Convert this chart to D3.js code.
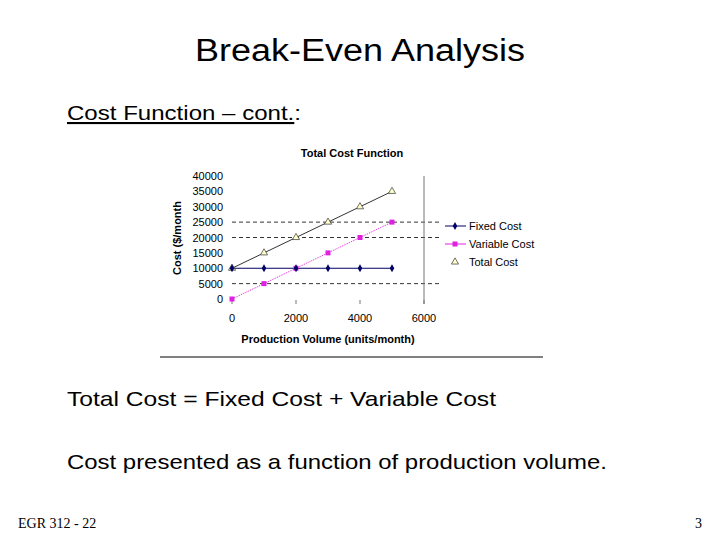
<!DOCTYPE html><html><head><meta charset="utf-8"><script src="https://cdn.jsdelivr.net/npm/d3@7"></script>
<style>body{margin:0;background:#fff}</style></head><body><svg id="s" width="720" height="540"></svg>
<script>
const volumes=[0,1000,2000,3000,4000,5000];
const fixedCost=[10000,10000,10000,10000,10000,10000];
const variableCost=[0,5000,10000,15000,20000,25000];
const totalCost=[10000,15000,20000,25000,30000,35000];
const yTicks=[0,5000,10000,15000,20000,25000,30000,35000,40000];
const xTicks=[0,2000,4000,6000];
const gridLevels=[5000,20000,25000];
const svg=d3.select("#s");
const A="Arial, Liberation Sans, sans-serif";
function big(x,y,size,t,len,anchor){return svg.append("text").attr("x",x).attr("y",y).attr("text-anchor",anchor||"start").attr("font-family",A).attr("font-size",size).attr("textLength",len).attr("lengthAdjust","spacingAndGlyphs").text(t);}
big(360,61,31,"Break-Even Analysis",330,"middle");
const c=svg.append("text").attr("x",67).attr("y",120).attr("font-family",A).attr("font-size",21).attr("textLength",234).attr("lengthAdjust","spacingAndGlyphs");
c.append("tspan").attr("text-decoration","underline").text("Cost Function – cont.");
c.append("tspan").text(":");
big(67,406,21,"Total Cost  = Fixed Cost + Variable Cost",429);
big(67,469,21,"Cost presented as a function of production volume.",540);
svg.append("text").attr("x",18).attr("y",528).attr("font-family","Liberation Serif, serif").attr("font-size",14).text("EGR 312 - 22");
svg.append("text").attr("x",702).attr("y",528).attr("text-anchor","end").attr("font-family","Liberation Serif, serif").attr("font-size",14).text("3");
const x=d3.scaleLinear().domain([0,6000]).range([232,424]);
const y=d3.scaleLinear().domain([0,40000]).range([299,176]);
svg.append("text").attr("x",352).attr("y",157).attr("text-anchor","middle").attr("font-family",A).attr("font-weight","bold").attr("font-size",11).text("Total Cost Function");
gridLevels.forEach(v=>svg.append("line").attr("x1",232).attr("x2",441).attr("y1",y(v)).attr("y2",y(v)).attr("stroke","#000").attr("stroke-dasharray","4,3").attr("stroke-width",0.8));
svg.append("line").attr("x1",424).attr("x2",424).attr("y1",176).attr("y2",304).attr("stroke","#777");
yTicks.forEach(v=>svg.append("text").attr("x",223).attr("y",y(v)+4).attr("text-anchor","end").attr("font-family",A).attr("font-size",11).text(v));
xTicks.forEach(v=>{svg.append("text").attr("x",x(v)).attr("y",322).attr("text-anchor","middle").attr("font-family",A).attr("font-size",11).text(v);
 svg.append("line").attr("x1",x(v)).attr("x2",x(v)).attr("y1",300).attr("y2",304).attr("stroke","#777");});
svg.append("text").attr("x",328).attr("y",343).attr("text-anchor","middle").attr("font-family",A).attr("font-weight","bold").attr("font-size",11).text("Production Volume (units/month)");
svg.append("text").attr("transform","translate(181,238) rotate(-90)").attr("text-anchor","middle").attr("font-family",A).attr("font-weight","bold").attr("font-size",11).text("Cost ($/month");
const line=d3.line().x((d,i)=>x(volumes[i])).y(d=>y(d));
svg.append("path").attr("d",line(totalCost)).attr("fill","none").attr("stroke","#000").attr("stroke-width",0.8);
svg.append("path").attr("d",line(variableCost)).attr("fill","none").attr("stroke","#e020e0").attr("stroke-width",1).attr("stroke-dasharray","1,1");
svg.append("path").attr("d",line(fixedCost)).attr("fill","none").attr("stroke","#000066").attr("stroke-width",1);
const tri=d3.symbol().type(d3.symbolTriangle).size(22);
totalCost.forEach((v,i)=>svg.append("path").attr("d",tri()).attr("transform",`translate(${x(volumes[i])},${y(v)})`).attr("fill","#ffffcc").attr("stroke","#333").attr("stroke-width",0.7));
variableCost.forEach((v,i)=>svg.append("rect").attr("x",x(volumes[i])-2.5).attr("y",y(v)-2.5).attr("width",5).attr("height",5).attr("fill","#e020e0"));
fixedCost.forEach((v,i)=>svg.append("path").attr("d",d3.symbol().type(d3.symbolDiamond).size(18)()).attr("transform",`translate(${x(volumes[i])},${y(v)})`).attr("fill","#000066"));
const leg=[["Fixed Cost",226],["Variable Cost",244],["Total Cost",262]];
svg.append("line").attr("x1",445).attr("x2",466).attr("y1",226).attr("y2",226).attr("stroke","#000066");
svg.append("path").attr("d",d3.symbol().type(d3.symbolDiamond).size(18)()).attr("transform","translate(455,226)").attr("fill","#000066");
svg.append("line").attr("x1",445).attr("x2",466).attr("y1",244).attr("y2",244).attr("stroke","#e020e0");
svg.append("rect").attr("x",452.5).attr("y",241.5).attr("width",5).attr("height",5).attr("fill","#e020e0");
svg.append("path").attr("d",tri()).attr("transform","translate(455,262)").attr("fill","#ffffcc").attr("stroke","#333").attr("stroke-width",0.7);
leg.forEach(([t,yy])=>svg.append("text").attr("x",469).attr("y",yy+4).attr("font-family",A).attr("font-size",11).text(t));
svg.append("line").attr("x1",160).attr("x2",543).attr("y1",357).attr("y2",357).attr("stroke","#000");
</script></body></html>
